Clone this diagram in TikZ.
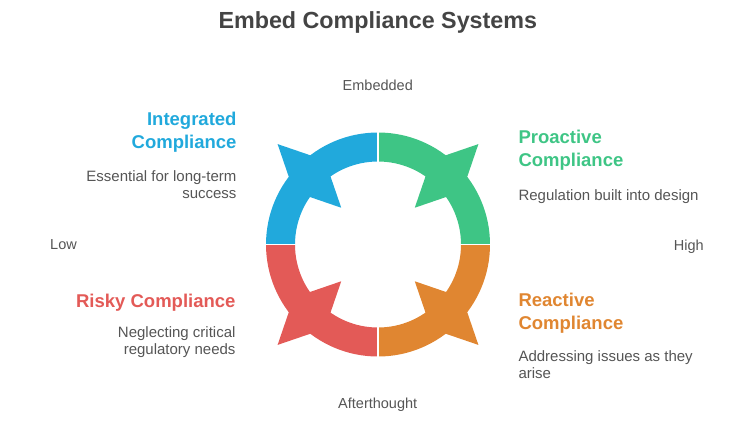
\documentclass[tikz,border=0pt]{standalone}
\usepackage{fontspec}
\setmainfont{Liberation Sans}
\usepackage{tikz}
\usetikzlibrary{calc}

\definecolor{ringBlue}{HTML}{21A9DC}
\definecolor{ringGreen}{HTML}{3EC585}
\definecolor{ringOrange}{HTML}{E08631}
\definecolor{ringRed}{HTML}{E35A57}
\definecolor{textGray}{HTML}{555555}
\definecolor{titleGray}{HTML}{444444}

\tikzset{
  headtext/.style={font=\bfseries\fontsize{18.5bp}{23.3bp}\selectfont,inner sep=0pt},
  desctext/.style={font=\fontsize{15bp}{17.3bp}\selectfont,text=textGray,inner sep=0pt},
  axistext/.style={font=\fontsize{14.5bp}{17bp}\selectfont,text=textGray,inner sep=0pt}
}

\begin{document}
\begin{tikzpicture}[x=1bp,y=-1bp]
\useasboundingbox (0,0) rectangle (754,429);

\node[font=\bfseries\fontsize{23.3bp}{28bp}\selectfont,text=titleGray,inner sep=0pt,anchor=base]
    (title) at (377.8,28.3) {Embed Compliance Systems};

\begin{scope}[shift={(378,244.5)}]
\coordinate (Origin) at (0,0);
\foreach \s/\c in {180/ringBlue, 270/ringGreen, 0/ringOrange, 90/ringRed}
	{
	\pgfmathsetmacro{\e}{\s+90}
	\pgfmathsetmacro{\m}{\s+45}
	\coordinate (outA) at (\s:112);
	\coordinate (inB) at (\e:83);
	\fill[\c] (outA) arc[start angle=\s,end angle=\e,radius=112]
		-- (inB) arc[start angle=\e,end angle=\s,radius=83] -- cycle;
	\fill[\c] (\m:142) -- (\m+12.8:99.5) -- (\m:52) -- (\m-12.8:99.5) -- cycle;
	}
\foreach \a in {0,90,180,270}
	{
	\draw[white,line width=1.5bp] (\a:80) -- (\a:115);
	}
\end{scope}

\node[axistext,anchor=base] (embedded) at (377.8,90.7) {Embedded};
\node[axistext,anchor=base west] (low) at (50,249.3) {Low};
\node[axistext,anchor=base east] (high) at (704,250) {High};
\node[axistext,anchor=base] (afterthought) at (377.7,408.3) {Afterthought};

\node[headtext,text=ringBlue,align=right,anchor=north east] (intHead) at (236.7,112)
    {Integrated\\Compliance};
\node[desctext,align=right,anchor=north east] (intDesc) at (236.7,170.5)
    {Essential for long-term\\success};

\node[headtext,text=ringGreen,align=left,anchor=north west] (proHead) at (518.3,130)
    {Proactive\\Compliance};
\node[desctext,align=left,anchor=north west] (proDesc) at (518.3,189)
    {Regulation built into design};

\node[headtext,text=ringRed,align=right,anchor=north east] (riskHead) at (235.7,294)
    {Risky Compliance};
\node[desctext,align=right,anchor=north east] (riskDesc) at (235.7,326.5)
    {Neglecting critical\\regulatory needs};

\node[headtext,text=ringOrange,align=left,anchor=north west] (reaHead) at (518.3,292.7)
    {Reactive\\Compliance};
\node[desctext,align=left,anchor=north west] (reaDesc) at (518.3,350.5)
    {Addressing issues as they\\arise};
\end{tikzpicture}
\end{document}
